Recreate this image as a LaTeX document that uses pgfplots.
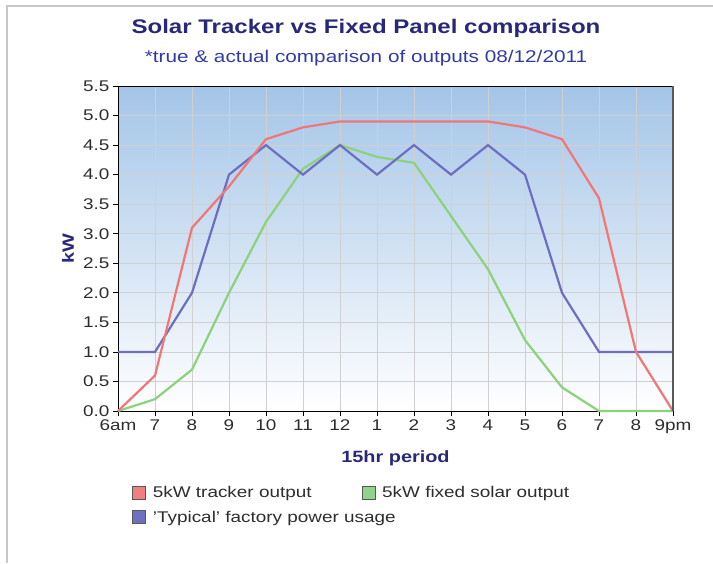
\documentclass[border=0pt]{standalone}
\usepackage{pgfplots}
\pgfplotsset{compat=1.18}
\usepackage{fontspec}
\setmainfont{Liberation Sans}[FakeStretch=1.22]
\definecolor{titleblue}{RGB}{40,40,120}
\definecolor{subblue}{RGB}{50,60,160}
\definecolor{cred}{RGB}{242,118,118}
\definecolor{cgreen}{RGB}{140,210,125}
\definecolor{cblue}{RGB}{110,110,192}
\definecolor{lred}{RGB}{240,128,128}
\definecolor{lgreen}{RGB}{146,210,140}
\definecolor{lblue}{RGB}{112,112,192}
\definecolor{bgtop}{RGB}{164,197,232}
\definecolor{bgmid}{RGB}{222,235,248}
\definecolor{gridc}{RGB}{208,208,208}
\definecolor{tickc}{RGB}{45,45,45}
\begin{document}
\begin{tikzpicture}[x=1pt,y=1pt]
\useasboundingbox (0,0) rectangle (713,563);
\draw[gray!45, line width=1.2pt] (7,0) -- (7,557) -- (713,557);
\node[font=\bfseries\fontsize{19.7}{22}\selectfont, text=titleblue] at (366,535) {Solar Tracker vs Fixed Panel comparison};
\node[font=\fontsize{17}{19}\selectfont, text=subblue] at (366,505) {*true \& actual comparison of outputs 08/12/2011};
\begin{axis}[
  at={(118pt,152pt)}, anchor=south west,
  scale only axis, width=555pt, height=325pt,
  xmin=0, xmax=15, ymin=0, ymax=5.5,
  xtick={0,...,15},
  xticklabels={6am,7,8,9,10,11,12,1,2,3,4,5,6,7,8,9pm},
  ytick={0,0.5,...,5.5},
  xtick pos=bottom, ytick pos=left,
  yticklabel style={/pgf/number format/.cd, fixed, fixed zerofill, precision=1},
  /pgf/number format/assume math mode=true,
  ticklabel style={font=\fontsize{15.5}{17}\selectfont, text=tickc},
  tick align=outside, major tick length=5pt,
  tick style={black, line width=0.8pt},
  axis line style={black, line width=1pt},
  grid=major, grid style={gridc, line width=0.7pt},
  axis background/.style={top color=bgtop, middle color=bgmid, bottom color=white},
  clip=false,
  xlabel={\bfseries 15hr period}, ylabel={\bfseries kW},
  label style={font=\fontsize{16.3}{18}\selectfont, text=titleblue},
  xlabel style={at={(0.5,-0.145)}, anchor=center},
  ylabel style={at={(-0.09,0.5)}, anchor=center},
  legend columns=2,
  legend style={at={(0.02,-0.218)}, anchor=north west, draw=none, fill=none,
    font=\fontsize{15.5}{17}\selectfont, text=tickc,
    /tikz/every odd column/.append style={column sep=5pt},
    /tikz/every even column/.append style={column sep=48pt},
    row sep=8pt},
  legend cell align=left,
  legend image code/.code={\draw[#1] (0pt,-6.5pt) rectangle (13pt,6.5pt);},
]
\addlegendimage{fill=lred, draw=black!65, line width=0.6pt}
\addlegendentry{5kW tracker output}
\addlegendimage{fill=lgreen, draw=black!65, line width=0.6pt}
\addlegendentry{5kW fixed solar output}
\addlegendimage{fill=lblue, draw=black!65, line width=0.6pt}
\addlegendentry{\makebox[0pt][l]{'Typical' factory power usage}}
\addplot[cgreen, line width=2.2pt, forget plot] coordinates {
(0,0) (1,0.2) (2,0.7) (3,2.0) (4,3.2) (5,4.1) (6,4.5) (7,4.3) (8,4.2) (9,3.3) (10,2.4) (11,1.2) (12,0.4) (13,0.0) (14,0.0) (15,0.0)};
\addplot[cblue, line width=2.2pt, forget plot] coordinates {
(0,1.0) (1,1.0) (2,2.0) (3,4.0) (4,4.5) (5,4.0) (6,4.5) (7,4.0) (8,4.5) (9,4.0) (10,4.5) (11,4.0) (12,2.0) (13,1.0) (14,1.0) (15,1.0)};
\addplot[cred, line width=2.2pt, forget plot] coordinates {
(0,0) (1,0.6) (2,3.1) (3,3.8) (4,4.6) (5,4.8) (6,4.9) (7,4.9) (8,4.9) (9,4.9) (10,4.9) (11,4.8) (12,4.6) (13,3.6) (14,1.0) (15,0.0)};
\draw[black!65, line width=1.6pt] (rel axis cs:1,0) -- (rel axis cs:1,1);
\end{axis}
\end{tikzpicture}
\end{document}
